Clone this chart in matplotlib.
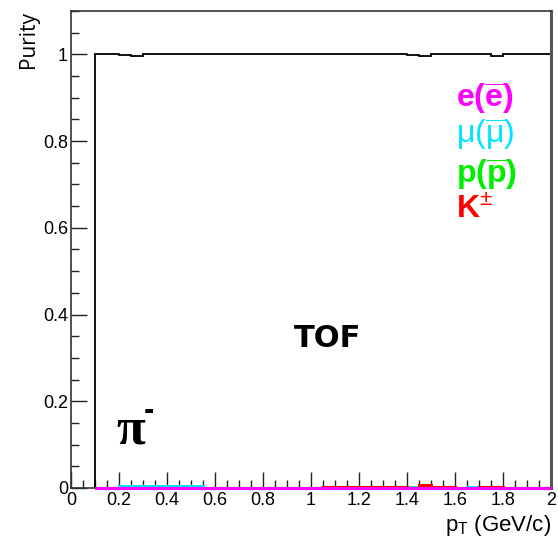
import numpy as np
import matplotlib
matplotlib.use("Agg")
from matplotlib import pyplot as plt
from matplotlib.ticker import MultipleLocator, FuncFormatter

# pT bin edges (GeV/c), 0.05 wide from 0.1 to 2.0
edges = np.round(np.arange(0.1, 2.0001, 0.05), 3)
nbins = len(edges) - 1

# purity of each species in the pi- TOF sample
pion = np.ones(nbins)
pion[2] = 0.998   # 0.20-0.25
pion[3] = 0.995   # 0.25-0.30
pion[26] = 0.998  # 1.40-1.45
pion[27] = 0.995  # 1.45-1.50
pion[33] = 0.995  # 1.75-1.80

muon = np.zeros(nbins)
muon[0:2] = 0.001
muon[2:9] = 0.004
muon[26] = 0.002
muon[31] = 0.002

kaon = np.zeros(nbins)
kaon[19:26] = 0.002
kaon[27] = 0.008
kaon[28:30] = 0.002
kaon[32:34] = 0.002

electron = np.zeros(nbins)
proton = np.zeros(nbins)

labels = [r"$\mathbf{e(\overline{e})}$", r"$\mu(\overline{\mu})$",
          r"$\mathbf{p(\overline{p})}$", r"$\mathbf{K}^{\pm}$"]
label_colors = ["#ff00ff", "#00e5ff", "#00ee00", "#ff0000"]
label_y = [0.90, 0.815, 0.722, 0.64]

plt.rcParams["font.family"] = ["Liberation Sans", "DejaVu Sans"]
plt.rcParams["mathtext.fontset"] = "custom"
plt.rcParams["mathtext.rm"] = "Liberation Sans"
plt.rcParams["mathtext.it"] = "Liberation Sans"
plt.rcParams["mathtext.bf"] = "Liberation Sans:bold"

fig = plt.figure(figsize=(5.58, 5.45), dpi=100)
ax = fig.add_axes([0.127, 0.1046, 0.8605, 0.8754])

for vals, col in [(proton, "#00ee00"), (muon, "#00e5ff"),
                  (kaon, "#ff0000"), (electron, "#ff00ff")]:
    ax.stairs(vals, edges, color=col, lw=2.2, zorder=3, clip_on=False)
ax.stairs(pion, edges, baseline=0, color="black", lw=1.3, zorder=2)

ax.set_xlim(0, 2)
ax.set_ylim(0, 1.1)

ax.xaxis.set_major_locator(MultipleLocator(0.2))
ax.xaxis.set_minor_locator(MultipleLocator(0.05))
ax.yaxis.set_major_locator(MultipleLocator(0.2))
ax.yaxis.set_minor_locator(MultipleLocator(0.05))
fmt = FuncFormatter(lambda v, p: ("%g" % round(v, 2)))
ax.xaxis.set_major_formatter(fmt)
ax.yaxis.set_major_formatter(fmt)
ax.tick_params(which="both", direction="in", top=False, right=False,
               labelsize=13, color="#222222")
ax.tick_params(which="major", length=11.5, width=1)
ax.tick_params(which="minor", length=5.5, width=1)
ax.tick_params(axis="x", pad=3)
ax.tick_params(axis="y", pad=2)

for s in ax.spines.values():
    s.set_color("#333333")
    s.set_linewidth(1.2)
ax.spines["right"].set_linewidth(2.2)
ax.spines["right"].set_color("#555555")

ax.set_xlabel(r"p$_{\mathregular{T}}$ (GeV/c)", fontsize=16, loc="right", labelpad=3)
ax.set_ylabel("Purity", fontsize=15, family="Open Sans", loc="top", labelpad=3)

for lab, col, yy in zip(labels, label_colors, label_y):
    ax.text(1.605, yy, lab, color=col, fontsize=23, va="center", ha="left")

ax.text(1.07, 0.345, "TOF", fontsize=22, fontweight="bold",
        family="DejaVu Sans", ha="center", va="center")
ax.text(0.19, 0.132, "π", fontsize=38, family="Liberation Serif",
        fontweight="bold", ha="left", va="center")
ax.text(0.305, 0.178, "-", fontsize=22, family="Liberation Sans",
        fontweight="bold", ha="left", va="center")

fig.savefig("out.png", dpi=100)
